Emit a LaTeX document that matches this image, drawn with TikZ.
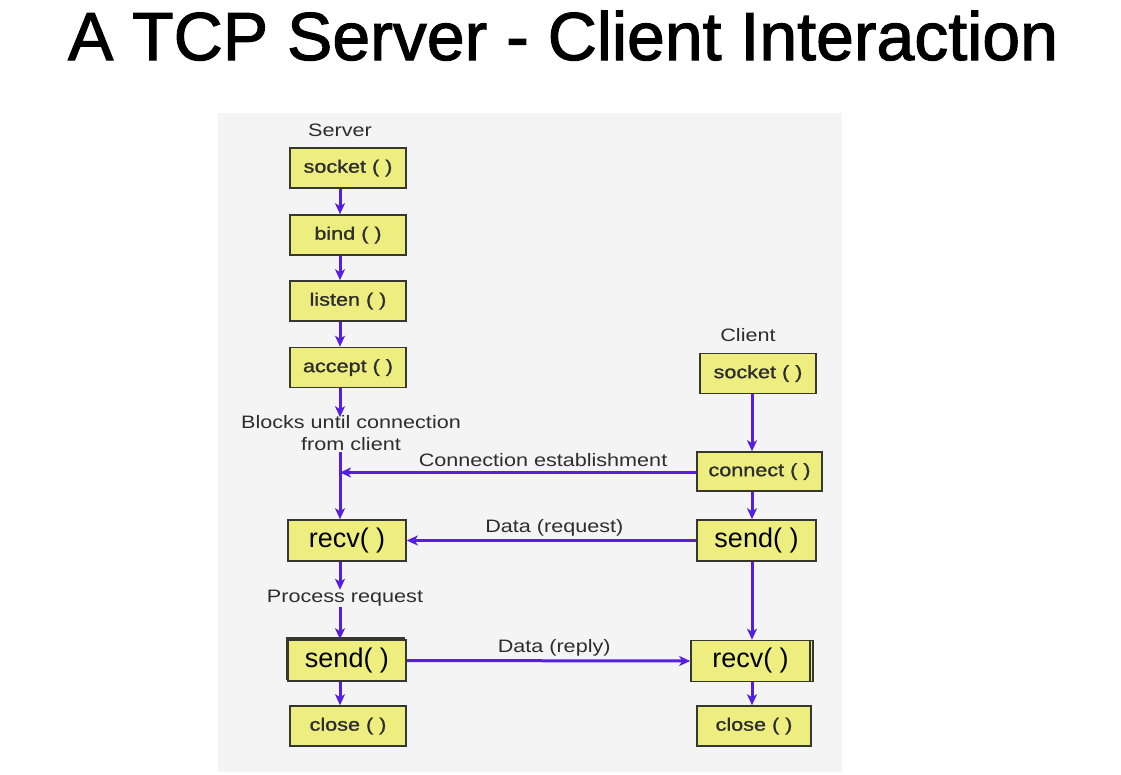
\documentclass[tikz,border=0pt]{standalone}
\usepackage{fontspec}
\setmainfont{Liberation Sans}[FakeStretch=1.2]
\newfontfamily\plainsans{Liberation Sans}
\newfontfamily\boxsans{Liberation Sans}[FakeStretch=1.2,FakeBold=1.2]
\newfontfamily\titlesans{Liberation Sans}[FakeBold=1.6]
\usetikzlibrary{arrows.meta,shadows}
\definecolor{boxfill}{RGB}{238,238,128}
\definecolor{boxline}{RGB}{55,55,50}
\definecolor{arrowc}{RGB}{85,30,225}
\definecolor{txt}{RGB}{45,45,45}
\definecolor{panel}{RGB}{244,244,244}
\tikzset{
  boxs/.style={draw=boxline, line width=1.6pt, fill=boxfill, inner sep=0pt,
    minimum width=116pt, minimum height=40pt, text=txt, font=\boxsans\fontsize{18}{20}\selectfont},
  boxb/.style={draw=boxline, line width=1.6pt, fill=boxfill, inner sep=0pt,
    minimum width=118pt, minimum height=41pt, text=black, font=\plainsans\fontsize{27}{29}\selectfont},
  lbl/.style={text=txt, font=\fontsize{18}{22}\selectfont, inner sep=1pt, align=center},
  flow/.style={draw=arrowc, line width=3pt, -{Stealth[length=11pt,width=10pt,inset=3pt]}},
}
\begin{document}
\begin{tikzpicture}[x=1pt,y=-1pt]
\useasboundingbox (0,0) rectangle (1121,774);
\fill[white] (0,0) rectangle (1121,774);
\fill[panel] (218,113) rectangle (842,772);
% title
\node[anchor=base, font=\titlesans\fontsize{68}{72}\selectfont, text=black, inner sep=0pt] (title) at (563,60) {A TCP Server - Client Interaction};
% column coordinates
\coordinate (sx) at (340,0);
\coordinate (cx) at (752,0);
% server
\node[lbl] (slab) at (340,130) {Server};
\node[boxs] (ssock) at (348,168) {socket ( )};
\node[boxs] (sbind) at (348,235) {bind ( )};
\node[boxs] (slist) at (348,301) {listen ( )};
\node[boxs] (sacc) at (348,367.5) {accept ( )};
\node[lbl] (blocks) at (351,433) {Blocks until connection\\from client};
\node[boxb] (srecv) at (347,540.5) {recv( )};
\node[lbl] (proc) at (345,598) {Process request};
\node[boxb, copy shadow={shadow xshift=-1.5pt, shadow yshift=2pt}] (ssend) at (347,660.5) {send( )};
\node[boxs] (sclose) at (348,726) {close ( )};
% client
\node[lbl] (clab) at (748,335) {Client};
\node[boxs] (csock) at (758,373.5) {socket ( )};
\node[boxs, minimum width=125pt, minimum height=39pt] (cconn) at (759.5,471.5) {connect ( )};
\node[boxb, minimum width=119pt] (csend) at (756.5,540.5) {send( )};
\node[boxb, minimum width=119pt, copy shadow={shadow xshift=3pt, shadow yshift=0pt}] (crecv) at (750.5,661) {recv( )};
\node[boxs, minimum width=114pt] (cclose) at (754,726) {close ( )};
% server flow
\draw[flow] (ssock.south -| sx) -- (sbind.north -| sx);
\draw[flow] (sbind.south -| sx) -- (slist.north -| sx);
\draw[flow] (slist.south -| sx) -- (sacc.north -| sx);
\draw[flow] (sacc.south -| sx) -- ([yshift=-3pt]blocks.north -| sx);
\draw[flow] (blocks.south -| sx) -- (srecv.north -| sx);
\draw[flow] (srecv.south -| sx) -- ([yshift=-1pt]proc.north -| sx);
\draw[flow] (proc.south -| sx) -- (ssend.north -| sx);
\draw[flow] (ssend.south -| sx) -- (sclose.north -| sx);
% client flow
\draw[flow] (csock.south -| cx) -- (cconn.north -| cx);
\draw[flow] (cconn.south -| cx) -- (csend.north -| cx);
\draw[flow] (csend.south -| cx) -- (crecv.north -| cx);
\draw[flow] (crecv.south -| cx) -- (cclose.north -| cx);
% interactions
\draw[flow] ([yshift=-1pt]cconn.west) -- ([yshift=-1pt]cconn.west -| sx) node[lbl, pos=0.43, above=3pt] (lconn) {Connection establishment};
\draw[flow] (csend.west) -- (srecv.east) node[lbl, pos=0.49, above=2pt] (lreq) {Data (request)};
\draw[flow] (ssend.east) -- (crecv.west) node[lbl, pos=0.52, above=2pt] (lrep) {Data (reply)};
\end{tikzpicture}
\end{document}
